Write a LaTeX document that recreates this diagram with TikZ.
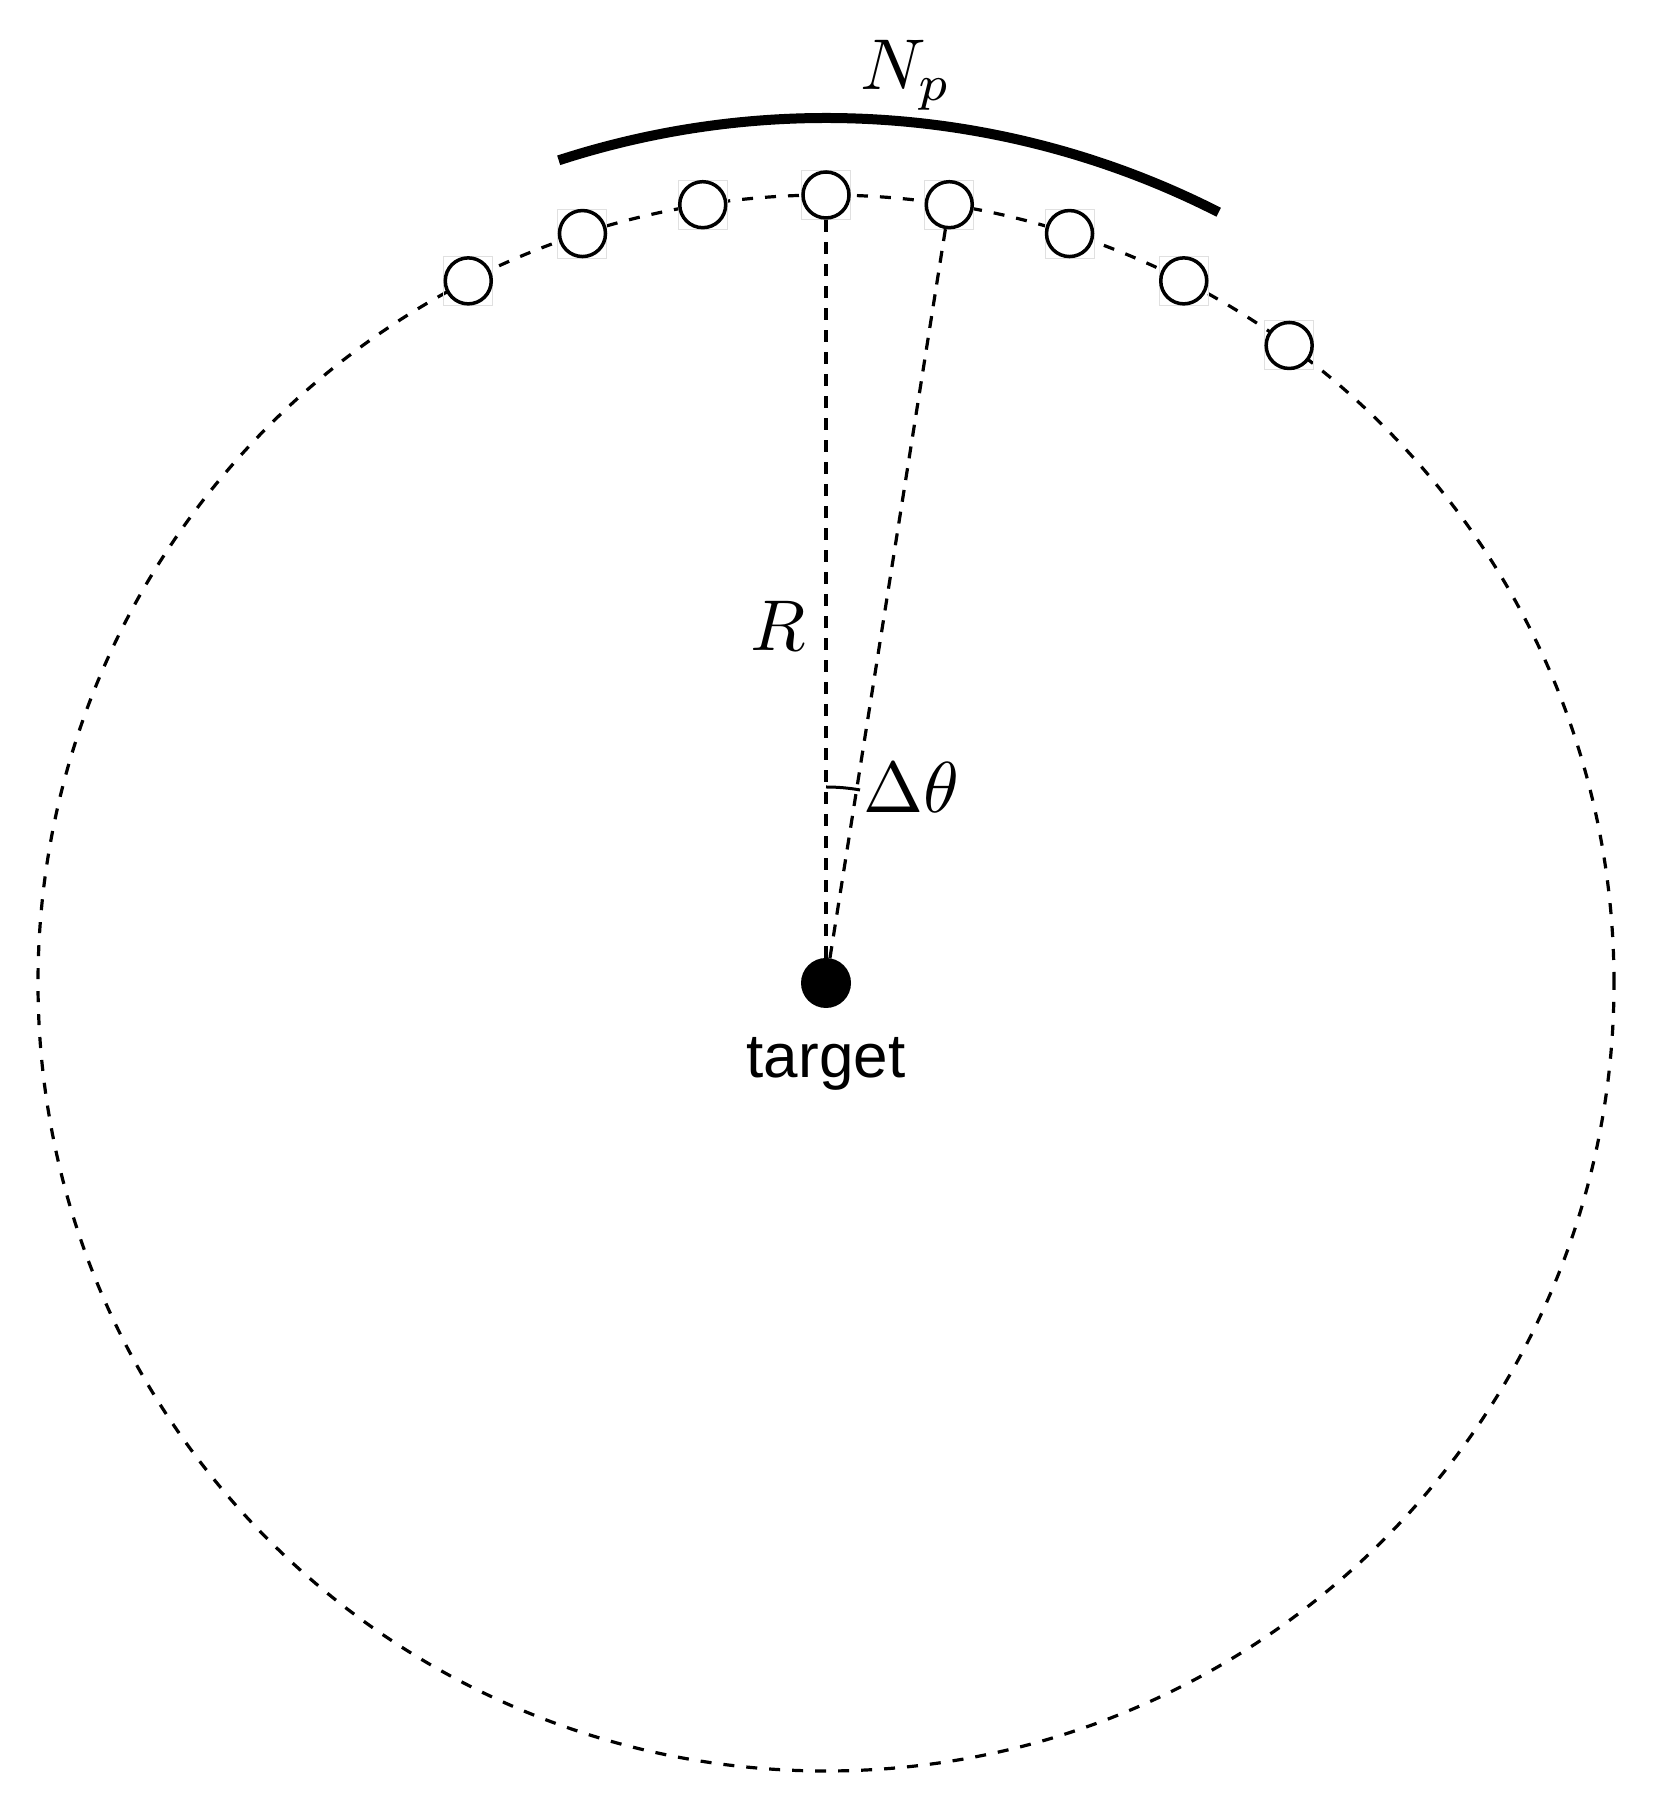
\documentclass[tikz,border=0pt]{standalone}
\usepackage{fontspec}
\newfontfamily\labelfont{Liberation Sans}
\begin{document}
\begin{tikzpicture}[x=1pt,y=1pt,
  ring/.style={draw=black, line width=3.2pt, dash pattern=on 11pt off 12pt},
  radial/.style={draw=black, line width=3.2pt, dash pattern=on 12pt off 10pt},
  posnode/.style={circle, draw=black, fill=white, line width=3.5pt, minimum size=46pt, inner sep=0pt},
  posbox/.style={draw=black!12, line width=1pt, minimum size=49pt, inner sep=0pt},
  tgt/.style={circle, fill=black, minimum size=50pt, inner sep=0pt},
  mathlbl/.style={font=\fontsize{10}{12}\selectfont, scale=7.2, inner sep=0pt},
  txtlbl/.style={font=\labelfont\fontsize{62}{70}\selectfont, inner sep=0pt},
  band/.style={line width=10pt},
  anglemark/.style={line width=3pt}]
\useasboundingbox (0,0) rectangle (1655,1808);
\coordinate (c) at (826,825);
\draw[ring] (c) circle[radius=788pt];
\foreach \i/\a in {1/117,2/108,3/99,4/90,5/81,6/72,7/63,8/54}{
  \node[posbox] (b\i) at ([shift={(\a:788)}]c) {};
  \node[posnode] (p\i) at ([shift={(\a:788)}]c) {};
}
\node[tgt] (t) at (c) {};
\draw[radial] (t) -- (p4);
\draw[radial] (t) -- (p5);
\draw[anglemark] ([shift={(90:196)}]c) arc[start angle=90, end angle=80, radius=196pt];
\draw[band] ([shift={(108:865)}]c) arc[start angle=108, end angle=63, radius=865pt];
\node[mathlbl, anchor=base west] (np) at (859,1718) {$N_p$};
\node[mathlbl, anchor=base west] (rl) at (749,1157) {$R$};
\node[mathlbl, anchor=base west] (dt) at (862,995) {$\Delta\theta$};
\node[txtlbl, anchor=base] (tl) at (826,730) {target};
\end{tikzpicture}
\end{document}
